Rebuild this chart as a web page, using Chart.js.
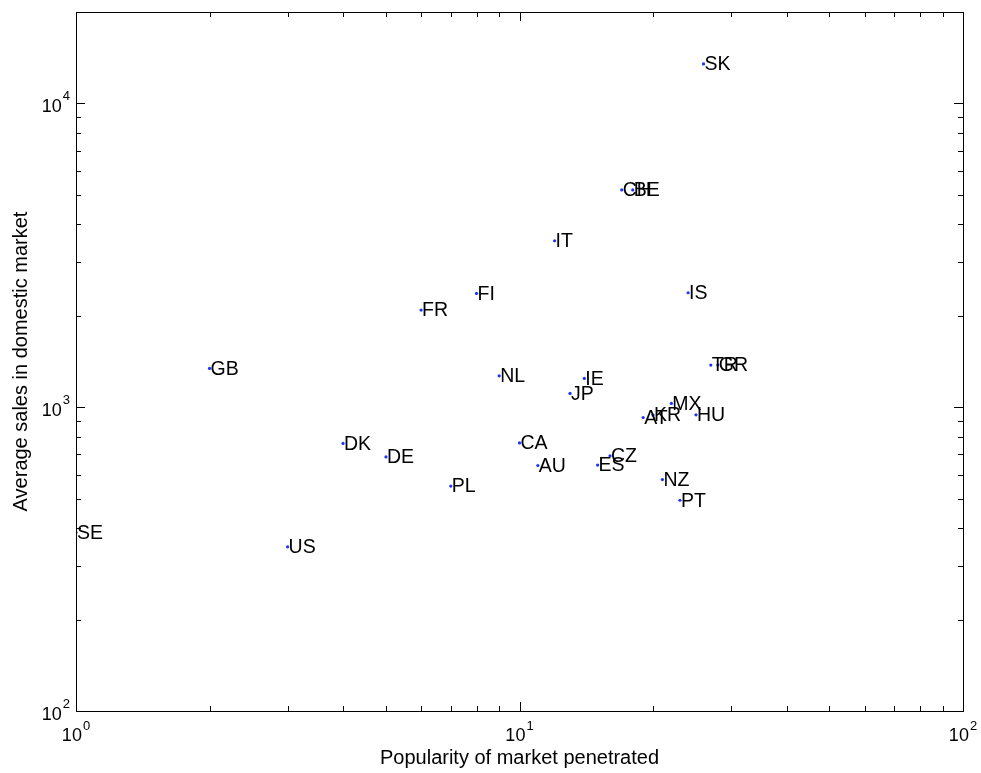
<!DOCTYPE html>
<html>
<head>
<meta charset="utf-8">
<script src="https://cdn.jsdelivr.net/npm/chart.js@4.4.0/dist/chart.umd.min.js"></script>
<style>
body{margin:0;background:#fff}
#wrap{width:981px;height:773px;position:relative}
</style>
</head>
<body>
<div id="wrap"><canvas id="myChart"></canvas></div>
<script>
const countries = ['SE','GB','US','DK','DE','FR','PL','FI','NL','CA','AU','IT','JP','IE',
  'ES','CZ','CH','BE','AT','KR','NZ','MX','PT','IS','HU','SK','TR','GR'];
const popularity = [1,2,3,4,5,6,7,8,9,10,11,12,13,14,15,16,17,18,19,20,21,22,23,24,25,26,27,28];
const avgSales = [387,1342,347,760,686,2088,550,2370,1269,763,643,3532,1110,1244,
  645,692,5190,5190,925,942,578,1029,494,2381,944,13490,1376,1376];

// tick labels: base 10 with exponent
const xTickValues = [1, 10, 100];
const xTickExps = ['0', '1', '2'];
const yTickValues = [100, 1000, 10000];
const yTickExps = ['2', '3', '4'];

const FONT = "'Liberation Sans', Arial, sans-serif";

// matlab style ticks inside the box, on all four sides, plus the 10^n labels
const boxTicks = {
  id: 'boxTicks',
  afterDraw(chart) {
    const {ctx, chartArea: a, scales} = chart;
    const x = scales.x, y = scales.y;
    ctx.save();
    ctx.strokeStyle = '#000';
    ctx.lineWidth = 1;
    ctx.strokeRect(Math.round(a.left)+0.5, Math.round(a.top)+0.5,
      Math.round(a.right-a.left), Math.round(a.bottom-a.top));
    ctx.beginPath();
    for (let d = 0; d < 2; d++) {
      for (let k = 1; k <= 10; k++) {
        const v = k * Math.pow(10, d);
        if (v < x.min || v > x.max) continue;
        const len = (k == 1 || k == 10) ? 9 : 5;
        const px = Math.round(x.getPixelForValue(v)) + 0.5;
        ctx.moveTo(px, a.bottom); ctx.lineTo(px, a.bottom - len);
        ctx.moveTo(px, a.top); ctx.lineTo(px, a.top + len);
      }
    }
    for (let d = 2; d < 5; d++) {
      for (let k = 1; k <= 10; k++) {
        const v = k * Math.pow(10, d);
        if (v < y.min || v > y.max) continue;
        const len = (k == 1 || k == 10) ? 9 : 5;
        const py = Math.round(y.getPixelForValue(v)) + 0.5;
        ctx.moveTo(a.left, py); ctx.lineTo(a.left + len, py);
        ctx.moveTo(a.right, py); ctx.lineTo(a.right - len, py);
      }
    }
    ctx.stroke();

    ctx.fillStyle = '#000';
    ctx.textAlign = 'left';
    ctx.textBaseline = 'alphabetic';
    const big = '18px ' + FONT, small = '13px ' + FONT;
    xTickValues.forEach((v, i) => {
      const px = x.getPixelForValue(v);
      ctx.font = big; const w10 = ctx.measureText('10').width;
      ctx.font = small; const we = ctx.measureText(xTickExps[i]).width;
      const start = px - (w10 + 1 + we) / 2;
      ctx.font = big; ctx.fillText('10', start, a.bottom + 30);
      ctx.font = small; ctx.fillText(xTickExps[i], start + w10 + 1, a.bottom + 19);
    });
    yTickValues.forEach((v, i) => {
      const py = y.getPixelForValue(v);
      ctx.font = big; const w10 = ctx.measureText('10').width;
      ctx.font = small; const we = ctx.measureText(yTickExps[i]).width;
      const start = a.left - 6 - (w10 + 1 + we);
      ctx.font = big; ctx.fillText('10', start, py + 8.5);
      ctx.font = small; ctx.fillText(yTickExps[i], start + w10 + 1, py - 3.5);
    });
    ctx.restore();
  }
};

const pointLabels = {
  id: 'pointLabels',
  afterDatasetsDraw(chart) {
    const ctx = chart.ctx;
    const pts = chart.getDatasetMeta(0).data;
    ctx.save();
    ctx.font = '19.5px ' + FONT;
    ctx.fillStyle = '#000';
    ctx.textAlign = 'left';
    ctx.textBaseline = 'middle';
    pts.forEach((p, i) => {
      ctx.fillText(countries[i], p.x + 1, p.y + 1);
    });
    ctx.restore();
  }
};

const myChart = document.getElementById('myChart');

new Chart(myChart, {
  type: 'scatter',
  data: {
    datasets: [{
      data: popularity.map((v, i) => ({x: v, y: avgSales[i]})),
      backgroundColor: '#1a33ff',
      borderColor: '#1a33ff',
      pointRadius: 1.6,
      borderWidth: 0
    }]
  },
  options: {
    responsive: true,
    maintainAspectRatio: false,
    animation: false,
    layout: {padding: {top: 12, right: 18, left: 0, bottom: 0}},
    plugins: {legend: {display: false}, tooltip: {enabled: false}},
    scales: {
      x: {
        type: 'logarithmic',
        min: 1, max: 100,
        afterFit: s => { s.height = 62; },
        grid: {display: false},
        border: {display: false},
        ticks: {display: false},
        title: {
          display: true, text: 'Popularity of market penetrated',
          color: '#000', font: {family: FONT, size: 20},
          padding: {top: 0, bottom: 3}
        }
      },
      y: {
        type: 'logarithmic',
        min: 100, max: 20000,
        afterFit: s => { s.width = 76; },
        grid: {display: false},
        border: {display: false},
        ticks: {display: false},
        title: {
          display: true, text: 'Average sales in domestic market',
          color: '#000', font: {family: FONT, size: 20},
          padding: {top: 9, bottom: 0}
        }
      }
    }
  },
  plugins: [boxTicks, pointLabels]
});
</script>
</body>
</html>
